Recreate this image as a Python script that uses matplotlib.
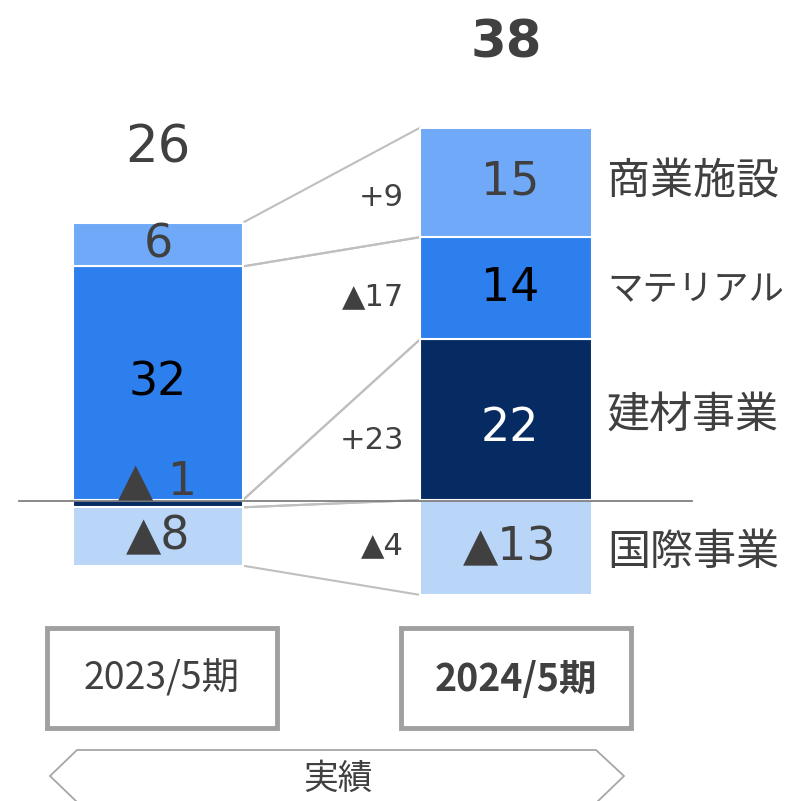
import matplotlib.pyplot as plt
from matplotlib.patches import Rectangle, Polygon

plt.rcParams['font.family'] = ['DejaVu Sans', 'Noto Sans CJK JP']

# data
periods = ["2023/5期", "2024/5期"]
segments = ["国際事業", "建材事業", "マテリアル", "商業施設"]
values_2023 = [-8, -1, 32, 6]
values_2024 = [-13, 22, 14, 15]
labels_2023 = ["▲8", "▲ 1", "32", "6"]
labels_2024 = ["▲13", "22", "14", "15"]
totals = ["26", "38"]
diffs = ["▲4", "+23", "▲17", "+9"]
colors = ["#B9D5F8", "#062B63", "#2E7FEE", "#6FA9F7"]
label_colors = ["#404040", "white", "black", "#404040"]

fig = plt.figure(figsize=(7.87, 8.01), dpi=100)
ax = fig.add_axes([0, 0, 1, 1])
scale = 7.3  # px per unit
ax.set_xlim(0, 787)
ax.set_ylim(-301 / scale, 500 / scale)
ax.axis("off")

# overlay in pixel coords for decorations
deco = fig.add_axes([0, 0, 1, 1], zorder=-1)
deco.set_xlim(0, 787)
deco.set_ylim(801, 0)
deco.axis("off")

bar_x = [158, 506]
bar_w = [170, 172]


def stack(vals):
    # positives stack upward in list order, negatives downward from the top of the list
    out = [None] * len(vals)
    pos = 0
    for j, v in enumerate(vals):
        if v >= 0:
            out[j] = (pos, pos + v)
            pos += v
    neg = 0
    for j in range(len(vals) - 1, -1, -1):
        v = vals[j]
        if v < 0:
            out[j] = (neg + v, neg)
            neg += v
    return out


stacks = [stack(values_2023), stack(values_2024)]

for i in range(2):
    for j, (lo, hi) in enumerate(stacks[i]):
        ax.bar(bar_x[i], hi - lo, bottom=lo, width=bar_w[i], color=colors[j],
               edgecolor="white", linewidth=1.5, zorder=2)

# connector lines
for j in range(len(segments)):
    for k in range(2):
        y0 = stacks[0][j][k]
        y1 = stacks[1][j][k]
        ax.plot([bar_x[0] + bar_w[0] / 2, bar_x[1] - bar_w[1] / 2], [y0, y1],
                color="#BFBFBF", lw=1.5, zorder=1)

ax.plot([19, 692], [-0.2, -0.2], color="#808080", lw=1.3, zorder=3)

# segment labels
for j in range(len(segments)):
    lo, hi = stacks[0][j]
    y = (lo + hi) / 2
    c = label_colors[j]
    if values_2023[j] == -1:
        y = 2.5
        c = "#404040"
    ax.text(bar_x[0], y, labels_2023[j], ha="center", va="center",
            fontsize=33, color=c, zorder=4)
    lo, hi = stacks[1][j]
    y = (lo + hi) / 2
    if j == 1:
        y -= 1.2
    ax.text(bar_x[1] + 4, y, labels_2024[j], ha="center",
            va="center", fontsize=33, color=label_colors[j], zorder=4)

# totals
ax.text(bar_x[0], 48.2, totals[0], ha="center", va="center", fontsize=37,
        color="#404040")
ax.text(bar_x[1], 62.6, totals[1], ha="center", va="center", fontsize=37,
        color="#404040", fontweight="bold")

# difference labels
diff_y = [-6.2, 8.2, 27.8, 41.4]
for j, d in enumerate(diffs):
    ax.text(404, diff_y[j], d, ha="right", va="center",
            fontsize=22, color="#404040")

# segment names
name_y = [-7.3, 11.6, 28.8, 43.5]
for j, s in enumerate(segments):
    ax.text(607, name_y[j], s, ha="left", va="center",
            fontsize=25.5 if s == "マテリアル" else 31, color="#404040")

# period boxes
box_x = [47, 401]
for i, p in enumerate(periods):
    deco.add_patch(Rectangle((box_x[i], 628), 230, 100, facecolor="white",
                             edgecolor="#A0A0A0", lw=3.5))
    deco.text(box_x[i] + 115, 679, p, ha="center", va="center", fontsize=27,
              family="Noto Sans CJK JP", color="#404040",
              fontweight="bold" if i == 1 else "normal")

# 実績 arrow
deco.add_patch(Polygon([(50, 776), (77, 750), (596, 750), (624, 776),
                        (597, 802), (77, 802)], closed=True, facecolor="white",
                       edgecolor="#A6A6A6", lw=1.3))
deco.text(338, 779, "実績", ha="center", va="center", fontsize=25,
          family="Noto Sans CJK JP", color="#404040")

fig.savefig("out.png", dpi=100)
